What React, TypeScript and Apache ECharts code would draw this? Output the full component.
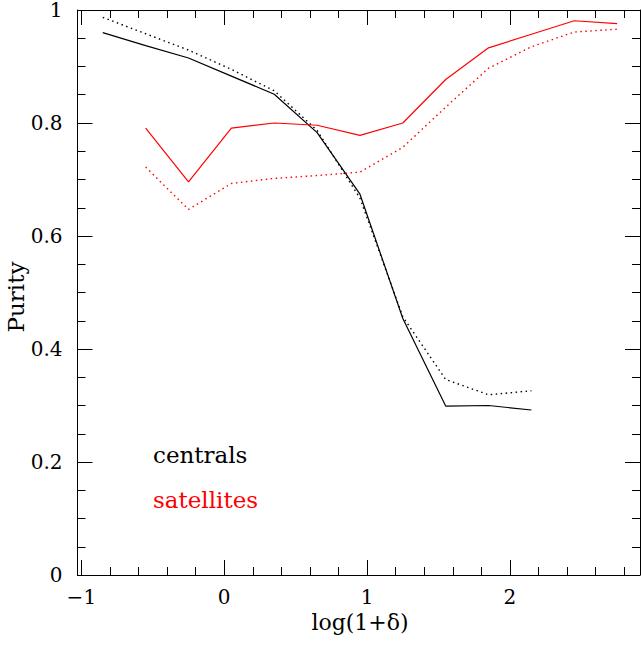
import React, { useEffect, useRef } from "react";
import * as echarts from "echarts";

const logDelta = [-0.85, -0.55, -0.25, 0.05, 0.35, 0.65, 0.95, 1.25, 1.55, 1.85, 2.15, 2.45, 2.75];
const centralsSolid = [0.960, 0.937, 0.915, 0.883, 0.851, 0.783, 0.674, 0.454, 0.299, 0.300, 0.292];
const centralsDotted = [0.987, 0.958, 0.929, 0.895, 0.857, 0.787, 0.667, 0.457, 0.346, 0.319, 0.326];
const satellitesX = logDelta.slice(1);
const satellitesSolid = [0.791, 0.696, 0.791, 0.800, 0.796, 0.778, 0.800, 0.877, 0.933, 0.957, 0.981, 0.976];
const satellitesDotted = [0.722, 0.647, 0.693, 0.702, 0.707, 0.713, 0.757, 0.828, 0.897, 0.935, 0.961, 0.966];
const xMajorTicks = [-1, 0, 1, 2];
const xMinorTicks = [-0.8, -0.6, -0.4, -0.2, 0.2, 0.4, 0.6, 0.8, 1.2, 1.4, 1.6, 1.8, 2.2, 2.4, 2.6, 2.8];

const FONT = "DejaVu Serif";
const X_MIN = -1.027;
const X_MAX = 2.91;

function pairs(xs: number[], ys: number[]) {
  return ys.map((y, i) => [xs[i], y]);
}

export default function App() {
  const ref = useRef<HTMLDivElement>(null);
  useEffect(() => {
    document.body.style.margin = "0";
    const chart = echarts.init(ref.current!, null, { renderer: "svg" });
    const axisLine = { show: true, onZero: false, lineStyle: { color: "#000", width: 1 } };
    const noLine = { show: false, onZero: false };
    const xBase = (position: string, major: boolean, labels: boolean, line: boolean) => ({
      type: "value",
      position,
      min: X_MIN,
      max: X_MAX,
      offset: 0,
      axisLine: line ? axisLine : noLine,
      splitLine: { show: false },
      axisTick: {
        show: true,
        inside: true,
        length: major ? 15 : 8,
        customValues: major ? xMajorTicks : xMinorTicks,
        lineStyle: { color: "#000", width: 1 },
      },
      axisLabel: labels
        ? {
            show: true,
            customValues: xMajorTicks,
            fontFamily: FONT,
            fontSize: 20,
            color: "#000",
            margin: 12,
            formatter: (v: number) => (v < 0 ? "\u2212" + Math.abs(v) : String(v)),
          }
        : { show: false },
    });
    const yBase = (position: string, labels: boolean) => ({
      type: "value",
      position,
      min: 0,
      max: 1,
      interval: 0.2,
      offset: 0,
      axisLine,
      splitLine: { show: false },
      minorSplitLine: { show: false },
      axisTick: { show: true, inside: true, length: 15, lineStyle: { color: "#000", width: 1 } },
      minorTick: { show: true, splitNumber: 4, length: 8, lineStyle: { color: "#000", width: 1 } },
      axisLabel: labels
        ? {
            show: true,
            fontFamily: FONT,
            fontSize: 20,
            color: "#000",
            margin: 15,
            formatter: (v: number) => String(Math.round(v * 10) / 10),
          }
        : { show: false },
    });
    const lineSeries = (xs: number[], ys: number[], color: string, dotted: boolean) => ({
      type: "line",
      xAxisIndex: 0,
      yAxisIndex: 0,
      data: pairs(xs, ys),
      showSymbol: false,
      symbol: "none",
      lineStyle: {
        color,
        width: dotted ? 1.4 : 1.2,
        type: dotted ? [1.5, 3.5] : "solid",
      },
      z: 3,
    });
    chart.setOption({
      animation: false,
      backgroundColor: "#fff",
      grid: { left: 77.5, right: 1, top: 10, bottom: 73, containLabel: false },
      xAxis: [
        xBase("bottom", true, true, true),
        xBase("bottom", false, false, false),
        xBase("top", true, false, true),
        xBase("top", false, false, false),
      ],
      yAxis: [yBase("left", true), yBase("right", false)],
      series: [
        lineSeries(logDelta, centralsSolid, "#000", false),
        lineSeries(logDelta, centralsDotted, "#000", true),
        lineSeries(satellitesX, satellitesSolid, "#ff0000", false),
        lineSeries(satellitesX, satellitesDotted, "#ff0000", true),
      ],
      graphic: [
        {
          type: "text",
          left: 153,
          top: 443,
          style: { text: "centrals", fontFamily: FONT, fontSize: 23, fill: "#000" },
        },
        {
          type: "text",
          left: 153,
          top: 488,
          style: { text: "satellites", fontFamily: FONT, fontSize: 23, fill: "#ff0000" },
        },
        {
          type: "text",
          x: 360,
          y: 622,
          style: {
            text: "log(1+\u03b4)",
            fontFamily: FONT,
            fontSize: 22,
            fill: "#000",
            align: "center",
            verticalAlign: "middle",
          },
        },
        {
          type: "text",
          x: 16,
          y: 297,
          rotation: Math.PI / 2,
          style: {
            text: "Purity",
            fontFamily: FONT,
            fontSize: 23,
            fill: "#000",
            align: "center",
            verticalAlign: "middle",
          },
        },
      ],
    });
    return () => chart.dispose();
  }, []);
  return <div ref={ref} style={{ width: 641, height: 648 }} />;
}
